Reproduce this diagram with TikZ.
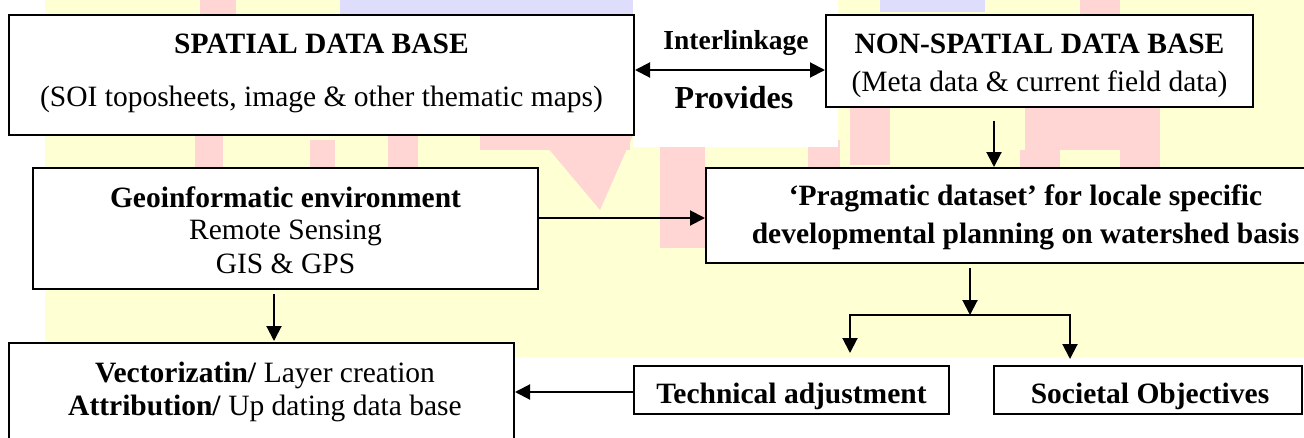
\documentclass[tikz,border=0pt]{standalone}
\usepackage{fontspec}
\setmainfont{Liberation Serif}
\usetikzlibrary{arrows.meta}
\definecolor{bgyellow}{RGB}{255,255,212}
\definecolor{wmpink}{RGB}{255,214,212}
\definecolor{wmblue}{RGB}{222,222,252}
\begin{document}
\begin{tikzpicture}[x=1pt,y=-1pt,
  box/.style={draw=black, line width=2pt, fill=white, inner sep=0pt},
  lbl/.style={anchor=base, inner sep=0pt, font=\fontsize{29.5}{36}\selectfont},
  blbl/.style={anchor=base, inner sep=0pt, font=\fontsize{29.5}{36}\selectfont\bfseries},
  tip/.tip={Triangle[length=15pt,width=15pt]},
  conn/.style={line width=2pt, -tip},
  wm/.style={fill=wmpink, draw=none},
]
\useasboundingbox (0,0) rectangle (1304,437);
\clip (0,0) rectangle (1304,437);
% background (watermark area)
\fill[white] (0,0) rectangle (1304,437);
\fill[bgyellow] (45,0) rectangle (1304,357);
\fill[wmblue] (340,0) rectangle (633,15);
\fill[wmblue] (880,0) rectangle (985,12);
\fill[wm] (200,0) rectangle (236,15);
\fill[wm] (1080,0) rectangle (1120,15);
\fill[wm] (195,135) rectangle (223,168);
\fill[wm] (310,140) rectangle (335,168);
\fill[wm] (388,135) rectangle (418,168);
\fill[wm] (480,135) rectangle (630,150);
\fill[wm] (537,135) -- (633,135) -- (600,210) -- cycle;
\fill[wm] (660,147) rectangle (705,248);
\fill[wm] (808,140) rectangle (840,168);
\fill[wm] (850,107) rectangle (890,165);
\fill[wm] (1025,107) rectangle (1160,150);
\fill[wm] (1020,150) rectangle (1060,168);
\fill[wm] (1120,150) rectangle (1160,168);
\fill[white] (633,0) rectangle (838,147);

% boxes
\node[box, minimum width=625pt, minimum height=120pt] (b1) at (321.5,75) {};
\node[box, minimum width=427pt, minimum height=92pt] (b2) at (1039.5,61) {};
\node[box, minimum width=505pt, minimum height=121pt] (b3) at (285.5,228.5) {};
\node[box, minimum width=639pt, minimum height=95pt] (b4) at (1025.5,215.5) {};
\node[box, minimum width=505pt, minimum height=127pt] (b6) at (261.5,406.5) {};
\node[box, minimum width=315pt, minimum height=48pt] (b5) at (791.5,390) {};
\node[box, minimum width=308pt, minimum height=48pt] (b7) at (1148,390) {};

% texts
\node[blbl] (t1a) at (321.5,53) {SPATIAL DATA BASE};
\node[lbl] (t1b) at (321.5,106) {(SOI toposheets, image \& other thematic maps)};
\node[blbl] (t2a) at (1039.5,53) {NON-SPATIAL DATA BASE};
\node[lbl] (t2b) at (1039.5,91) {(Meta data \& current field data)};
\node[anchor=base, inner sep=0pt, font=\fontsize{27.5}{33}\selectfont\bfseries] (tin) at (736,49) {Interlinkage};
\node[anchor=base, inner sep=0pt, font=\fontsize{32}{38}\selectfont\bfseries] (tpr) at (734,108) {Provides};
\node[blbl] (t3a) at (285.5,207) {Geoinformatic environment};
\node[lbl] (t3b) at (285.5,239) {Remote Sensing};
\node[lbl] (t3c) at (285.5,273) {GIS \& GPS};
\node[blbl] (t4a) at (1025.5,205) {‘Pragmatic dataset’ for locale specific};
\node[blbl] (t4b) at (1025.5,243) {developmental planning on watershed basis};
\node[lbl] (t6a) at (265,382) {\textbf{Vectorizatin/} Layer creation};
\node[lbl] (t6b) at (265,415) {\textbf{Attribution/} Up dating data base};
\node[blbl] (t5) at (791.5,403) {Technical adjustment};
\node[blbl] (t7) at (1150,403) {Societal Objectives};

% helper coordinates
\coordinate (hl) at (0,70);
\coordinate (v2) at (994,0);
\coordinate (h3) at (0,218);
\coordinate (v3) at (274,0);
\coordinate (sp) at (970,315);
\coordinate (tl) at (850,353);
\coordinate (tr) at (1070,359);
\coordinate (h5) at (0,392);

% connectors
\draw[line width=2pt, tip-tip] (hl -| b1.east) -- (hl -| b2.west);
\draw[conn, shorten <=13pt] (v2 |- b2.south) -- (v2 |- b4.north);
\draw[conn] (h3 -| b3.east) -- (h3 -| b4.west);
\draw[conn, shorten <=4pt, shorten >=1pt] (v3 |- b3.south) -- (v3 |- b6.north);
\draw[conn, shorten <=4pt] (sp |- b4.south) -- (sp);
\draw[conn] (sp) -| (tl);
\draw[conn] (sp) -| (tr);
\draw[conn] (h5 -| b5.west) -- (h5 -| b6.east);
\end{tikzpicture}
\end{document}
